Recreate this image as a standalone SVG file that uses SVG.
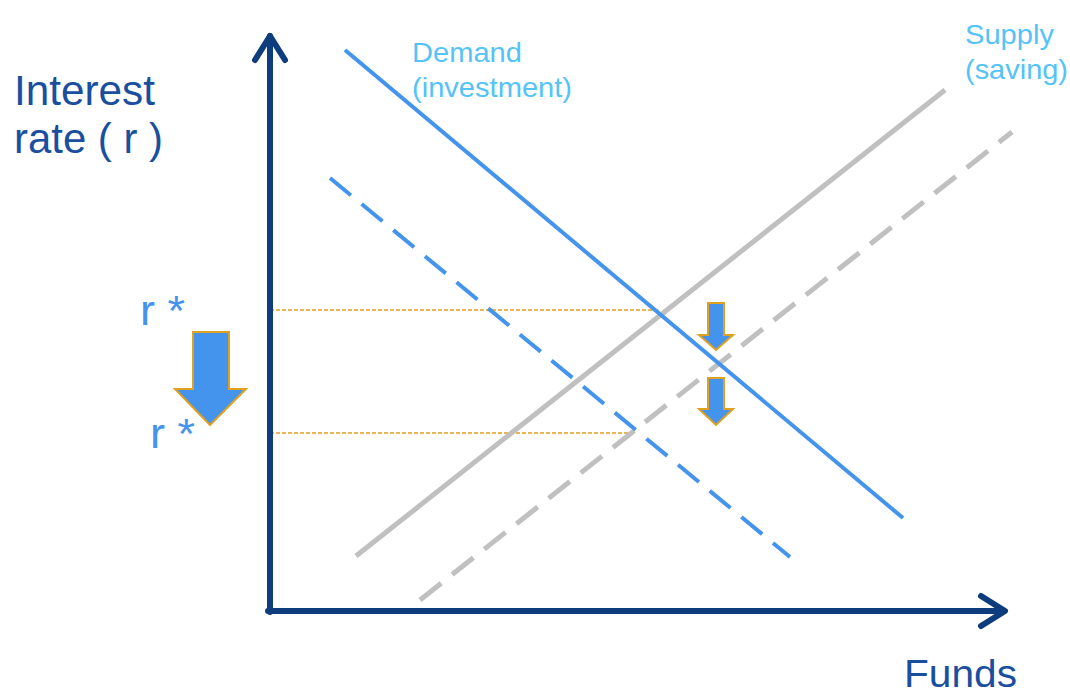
<svg xmlns="http://www.w3.org/2000/svg" width="1070" height="695" viewBox="0 0 1070 695">
<style>
.ax{fill:none;stroke:#0e3d7e;stroke-width:6;stroke-linecap:round;stroke-linejoin:round}
.dem{stroke:#4494ee;stroke-width:4;fill:none}
.sup{stroke:#c0c0c0;stroke-width:5;fill:none}
.dash{stroke-dasharray:27 14}
.guide{stroke:#e0a020;stroke-width:1.5;stroke-dasharray:4 2;fill:none}
.arr{fill:#4494ee;stroke:#e0a020;stroke-width:2}
.big{font-family:"Liberation Sans",Arial,sans-serif;font-size:42px}
.lbl{font-family:"Liberation Sans",Arial,sans-serif;font-size:28px;fill:#55c3f7}
</style>
<rect width="1070" height="695" fill="#fff"/>
<g id="connectors">
<line class="guide" x1="270" y1="310" x2="660" y2="310"/>
<line class="guide" x1="270" y1="433" x2="632" y2="433"/>
<line class="sup" x1="356" y1="556" x2="945" y2="90"/>
<line class="sup dash" x1="420" y1="600" x2="1012" y2="132"/>
<line class="dem" x1="345" y1="50" x2="903" y2="518"/>
<line class="dem dash" x1="330" y1="178" x2="790" y2="557"/>
</g>
<g id="axes">
<path class="ax" d="M270 612 V36"/>
<path class="ax" d="M255 60 L270 36 L285 60"/>
<path class="ax" d="M268 611 H1003"/>
<path class="ax" d="M981 596 L1005 611 L981 626"/>
</g>
<g id="arrow-big"><path class="arr" d="M193 332 H229 V389 H246 L210 425 L175 389 H193 Z"/></g>
<g id="arrow-small-1"><path class="arr" d="M708 303 H724 V335 H733 L716 350 L699 335 H708 Z"/></g>
<g id="arrow-small-2"><path class="arr" d="M708 378 H724 V409 H733 L716 425 L699 409 H708 Z"/></g>
<g id="labels">
<text class="big" x="14" y="105" fill="#1a4fa0" textLength="141" lengthAdjust="spacingAndGlyphs">Interest</text>
<text class="big" x="14" y="153" fill="#1a4fa0" textLength="149" lengthAdjust="spacingAndGlyphs">rate ( r )</text>
<text class="big" x="140" y="325" fill="#4494ee" textLength="45" lengthAdjust="spacingAndGlyphs">r *</text>
<text class="big" x="150" y="448" fill="#4494ee" textLength="45" lengthAdjust="spacingAndGlyphs">r *</text>
<text class="big" x="904" y="687" fill="#1a4fa0" style="font-size:38px" textLength="113" lengthAdjust="spacingAndGlyphs">Funds</text>
<text class="lbl" x="412" y="62" textLength="110" lengthAdjust="spacingAndGlyphs">Demand</text>
<text class="lbl" x="412" y="97" textLength="160" lengthAdjust="spacingAndGlyphs">(investment)</text>
<text class="lbl" x="965" y="44" textLength="89" lengthAdjust="spacingAndGlyphs">Supply</text>
<text class="lbl" x="965" y="79" textLength="103" lengthAdjust="spacingAndGlyphs">(saving)</text>
</g>
</svg>
